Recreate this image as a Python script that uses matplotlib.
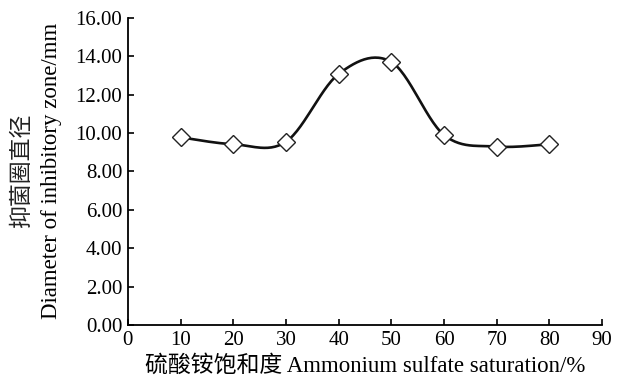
import numpy as np
import matplotlib
matplotlib.use('Agg')
import matplotlib.pyplot as plt

# ammonium sulfate saturation (%) vs inhibitory zone diameter (mm)
saturation = [10, 20, 30, 40, 50, 60, 70, 80]
diameter = [9.78, 9.42, 9.55, 13.08, 13.70, 9.90, 9.30, 9.42]

xticks = list(range(0, 91, 10))
yticks = [0, 2, 4, 6, 8, 10, 12, 14, 16]

plt.rcParams['font.family'] = ['Liberation Serif', 'Noto Sans CJK SC']
plt.rcParams['font.size'] = 15


def smooth_line(x, y, n=30):
    # excel style smoothed line (bezier through the points)
    x = np.asarray(x, float); y = np.asarray(y, float)
    px = np.concatenate([[x[0]], x, [x[-1]]])
    py = np.concatenate([[y[0]], y, [y[-1]]])
    xs = []; ys = []
    for i in range(1, len(px) - 2):
        p0 = np.array([px[i], py[i]]); p3 = np.array([px[i+1], py[i+1]])
        c1 = p0 + (np.array([px[i+1], py[i+1]]) - np.array([px[i-1], py[i-1]])) / 6
        c2 = p3 - (np.array([px[i+2], py[i+2]]) - np.array([px[i], py[i]])) / 6
        t = np.linspace(0, 1, n)[:, None]
        b = (1-t)**3*p0 + 3*(1-t)**2*t*c1 + 3*(1-t)*t**2*c2 + t**3*p3
        xs.extend(b[:, 0]); ys.extend(b[:, 1])
    return xs, ys


fig = plt.figure(figsize=(6.24, 3.88), dpi=100)
ax = fig.add_axes([0.205, 0.162, 0.76, 0.792])

sx, sy = smooth_line(saturation, diameter)
ax.plot(sx, sy, color='#111111', linewidth=1.9, zorder=2)
ax.plot(saturation, diameter, linestyle='none', marker='D', markersize=9.5,
        markerfacecolor='white', markeredgecolor='#222222', markeredgewidth=1.0, zorder=3)

ax.set_xlim(0, 90)
ax.set_ylim(0, 16)
ax.set_xticks(xticks)
ax.set_yticks(yticks)
ax.set_yticklabels(['%.2f' % v for v in yticks])
ax.tick_params(direction='in', length=4, width=1.2, pad=4, labelsize=15)
ax.spines['top'].set_visible(False)
ax.spines['right'].set_visible(False)
ax.spines['left'].set_linewidth(1.3)
ax.spines['bottom'].set_linewidth(1.3)

ax.set_xlabel('硫酸铵饱和度 Ammonium sulfate saturation/%', fontsize=16.5, labelpad=4)

# two line y label, each line centred on the axis
fig.text(22/624, 1 - 171/388, '抑菌圈直径', rotation=90, fontsize=16.5,
         ha='center', va='center', color='#222222')
fig.text(52/624, 1 - 171/388, 'Diameter of inhibitory zone/mm', rotation=90, fontsize=16.5,
         ha='center', va='center')

plt.savefig('out.png', dpi=100)
